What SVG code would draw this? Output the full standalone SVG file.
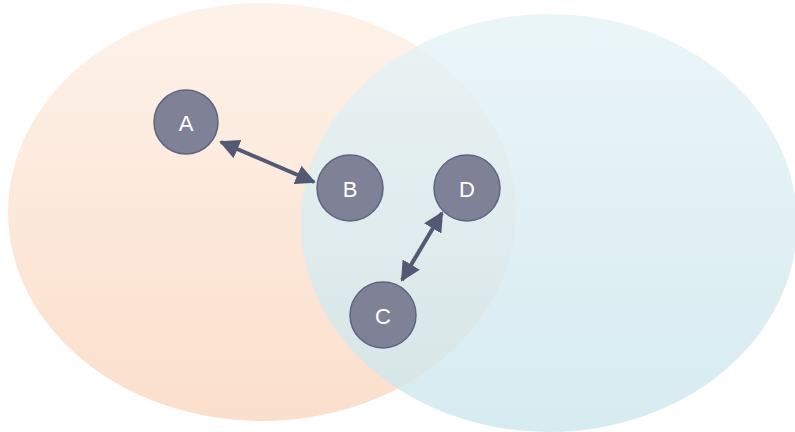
<svg xmlns="http://www.w3.org/2000/svg" width="795" height="432" viewBox="0 0 795 432">
  <defs>
    <linearGradient id="gradWarm" x1="0" y1="0" x2="0" y2="1">
      <stop offset="0" stop-color="#fdf2e9"/>
      <stop offset="1" stop-color="#fbdfcc"/>
    </linearGradient>
    <linearGradient id="gradCool" x1="0" y1="0" x2="0" y2="1">
      <stop offset="0" stop-color="#e6f3f7"/>
      <stop offset="1" stop-color="#cce6ed"/>
    </linearGradient>
    <marker id="head" viewBox="0 0 10 10" refX="9" refY="5" markerWidth="5" markerHeight="5" markerUnits="strokeWidth" orient="auto-start-reverse">
      <path d="M0,0 L10,5 L0,10 z" fill="#535873"/>
    </marker>
  </defs>
  <style>
    .node circle { fill: #7f8297; stroke: #5f6481; stroke-width: 1.5; }
    .node text { fill: #ffffff; font-family: "Liberation Sans", Arial, sans-serif; font-size: 22px; text-anchor: middle; dominant-baseline: central; }
    .edge { stroke: #535873; stroke-width: 4; fill: none; marker-start: url(#head); marker-end: url(#head); }
  </style>

  <!-- two overlapping sets -->
  <g id="sets">
    <ellipse id="set-left" cx="262" cy="212" rx="254" ry="209" fill="url(#gradWarm)"/>
    <ellipse id="set-right" cx="549" cy="223" rx="248" ry="209" fill="url(#gradCool)" opacity="0.8"/>
  </g>

  <!-- connectors -->
  <g id="connectors">
    <line class="edge" x1="221" y1="142" x2="314" y2="182"/>
    <line class="edge" x1="442" y1="213" x2="402" y2="280"/>
  </g>

  <g id="node-A" class="node">
    <circle cx="186" cy="122" r="32"/>
    <text x="186" y="123">A</text>
  </g>
  <g id="node-B" class="node">
    <circle cx="350" cy="188" r="33"/>
    <text x="350" y="189">B</text>
  </g>
  <g id="node-D" class="node">
    <circle cx="467" cy="188" r="33"/>
    <text x="467" y="189">D</text>
  </g>
  <g id="node-C" class="node">
    <circle cx="383" cy="315" r="33"/>
    <text x="383" y="316">C</text>
  </g>
</svg>
